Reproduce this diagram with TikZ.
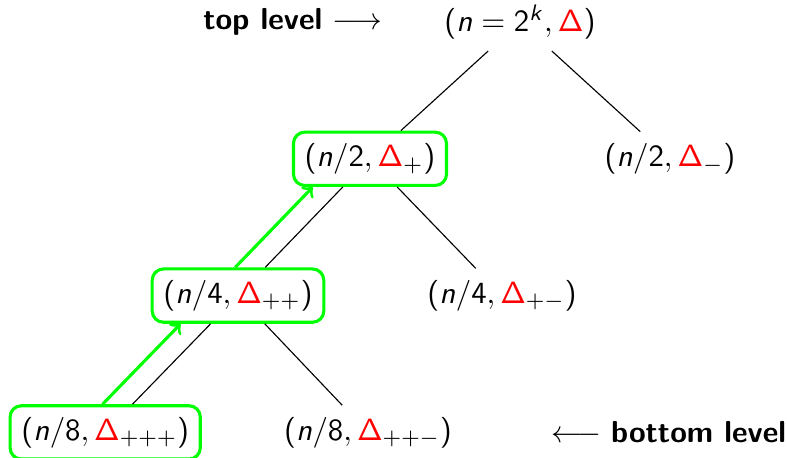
\documentclass[tikz,border=0pt]{standalone}
\usepackage{tikz}
\usetikzlibrary{positioning}
\renewcommand{\familydefault}{\sfdefault}
% sans serif maths, as in slides
\DeclareSymbolFont{operators}{OT1}{cmss}{m}{n}
\DeclareSymbolFont{sfslanted}{OT1}{cmss}{m}{sl}
\DeclareMathSymbol{n}{\mathalpha}{sfslanted}{`n}
\DeclareMathSymbol{k}{\mathalpha}{sfslanted}{`k}

\begin{document}
\begin{tikzpicture}[auto,on grid,node distance=1.71cm and 1.65cm,
                    font=\fontsize{10.8}{13}\selectfont,
                    state/.style={rectangle, rounded corners=4pt, inner sep=4pt, minimum height=0.66cm},
                    picked/.style={state, draw=green, line width=1.1pt},
                    flow/.style={->, green, line width=1.1pt, transform canvas={xshift=-0.375cm}}]
  \useasboundingbox (-6.5,-5.45) rectangle (3.3375,0.275);
  % Nodes
  \node[state] (root) {$(n=2^k,\textcolor{red}{\Delta})$};
  \node[picked, below left=1.71cm and 1.875cm of root] (l) {$(n/2,\textcolor{red}{\Delta}_{+})$};
  \node[state, below right=1.71cm and 1.875cm of root] (r) {$(n/2,\textcolor{red}{\Delta}_{-})$};
  \node[picked, below left=of l] (ll) {$(n/4,\textcolor{red}{\Delta}_{++})$};
  \node[state, below right=of l] (lr) {$(n/4,\textcolor{red}{\Delta}_{+-})$};
  \node[picked, below left=1.71cm and 1.66cm of ll] (lll) {$(n/8,\textcolor{red}{\Delta}_{+++})$};
  \node[state, below right=1.71cm and 1.625cm of ll] (llr) {$(n/8,\textcolor{red}{\Delta}_{++-})$};

  % Edges
  \draw (root) -- (l);
  \draw (root) -- (r);
  \draw (l) -- (ll);
  \draw (l) -- (lr);
  \draw (ll) -- (lll);
  \draw (ll) -- (llr);

  % Path back up
  \draw[flow] (ll) -- (l);
  \draw[flow] (lll) -- (ll);

  % Labels
  \node[left=2.84cm of root] (top) {\textbf{top level} $\longrightarrow$};
  \node[right=3.76cm of llr] (bottom) {$\longleftarrow$ \textbf{bottom level}};
\end{tikzpicture}
\end{document}
